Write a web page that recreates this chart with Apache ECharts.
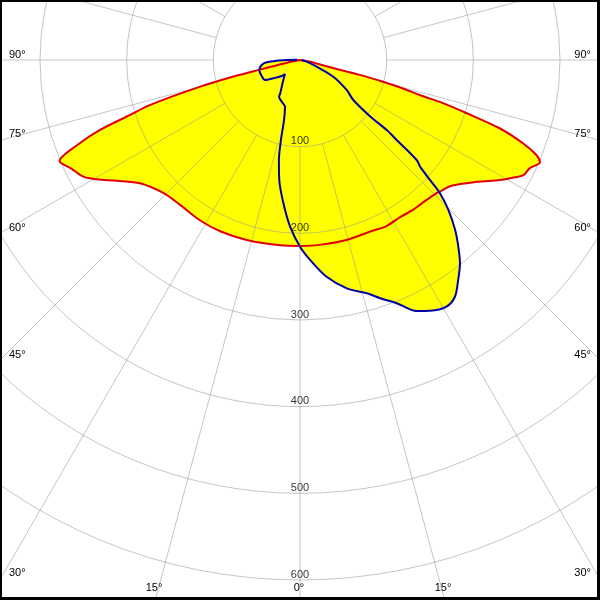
<!DOCTYPE html>
<html>
<head>
<meta charset="utf-8">
<script src="https://cdn.jsdelivr.net/npm/echarts@6/dist/echarts.min.js"></script>
<style>
html,body{margin:0;padding:0;background:#fff;}
#c{width:600px;height:600px;}
</style>
</head>
<body>
<div id="c"></div>
<script>
// ---- data (angle in degrees, 0 = straight down, positive to the right; value in cd/klm) ----
const redAngles = [-90,-80,-77,-76.5,-76,-75,-73.3,-72.1,-70.7,-69.1,-67.2,-64.6,-61.7,-59.6,-56.6,-52.4,-45.8,-39.6,-32,-25,-16.5,-6,0,6,14.5,23,27.5,32.5,37,40,45.7,47,50.3,55.4,59,60.6,62.75,64.8,66.9,68.1,69.5,71.1,72.3,73.2,73.7,74.7,75.3,76,76.3,80,90];
const redValues = [0,8,28,50,79,120,181,206,245,275,301,292,284,272,253,233,220,217,218,218,216.5,215,214.5,214.5,214.5,214,216,215,216.5,217,220,222,227,247.6,269,278,290,293,301,294,275,244,202,173,144,120,99,71,39,12,0];

const blueAngles = [-95,-90,-88.3,-86,-82.6,-76.2,-67.3,-60.3,-55.6,-48.8,-47,-39.9,-31,-29.5,-23.7,-17.8,-14.9,-13.4,-11.9,-9.8,-6.6,-3.4,0,2.9,7,11.6,16,18.6,21.7,24.9,27.4,30.7,33.2,35.7,38.2,40.3,42.4,44.7,46.4,47.3,48.4,49.4,50.4,51.1,51.2,53.1,57.3,63.4,68.1,75.8,90];
const blueValues = [3,15,27,38.5,44.6,48.4,47.9,46.5,37.3,28,23.7,30,44,49,52.5,56.6,71.6,95,118,140.5,166.5,192.7,215.4,231,252,269,280,290,302,319.4,326,331,326.5,312.7,298.5,282.4,265.4,243.4,223,204,185.3,177.3,144.8,128.6,104,76.9,64,43,20.7,8,2];

const radiusTicks = [100,200,300,400,500,600];
const radiusLabels = ['100','200','300','400','500','600'];
const spokeAngles = [-180,-165,-150,-135,-120,-105,-90,-75,-60,-45,-30,-15,0,15,30,45,60,75,90,105,120,135,150,165];
const angleLabels = ['90°','75°','60°','45°','30°','15°','0°','15°','30°','45°','60°','75°','90°'];

// ---- layout (positions of the angle labels at the frame edge) ----
const angleLabelLayout = [
  {x:9, y:55, align:'left'}, {x:9, y:134, align:'left'}, {x:9, y:228, align:'left'},
  {x:9, y:355, align:'left'}, {x:9, y:573, align:'left'}, {x:154, y:588, align:'center'},
  {x:299, y:588, align:'center'}, {x:443, y:588, align:'center'},
  {x:591, y:573, align:'right'}, {x:591, y:355, align:'right'}, {x:591, y:228, align:'right'},
  {x:591, y:134, align:'right'}, {x:591, y:55, align:'right'}
];

const FONT = '11px "Liberation Sans", Arial, sans-serif';
const gridColor = 'rgba(150,150,150,0.55)';
const SMOOTH = 0.3;

const redPts = redAngles.map((a,i)=>[redValues[i], a]);
const bluePts = blueAngles.map((a,i)=>[blueValues[i], a]);

const chart = echarts.init(document.getElementById('c'), null, {renderer:'canvas'});

const graphics = angleLabels.map((t,i)=>{
  const L = angleLabelLayout[i];
  return {type:'text', z:100, style:{text:t, x:L.x, y:L.y, font:FONT, fill:'#000',
    align:L.align, textAlign:L.align, verticalAlign:'middle', textVerticalAlign:'middle'}};
});
graphics.push(
  {type:'rect', z:100, shape:{x:0,y:0,width:2,height:600}, style:{fill:'#000'}},
  {type:'rect', z:100, shape:{x:0,y:0,width:600,height:2}, style:{fill:'#000'}},
  {type:'rect', z:100, shape:{x:597,y:0,width:3,height:600}, style:{fill:'#000'}},
  {type:'rect', z:100, shape:{x:0,y:597,width:600,height:3}, style:{fill:'#000'}}
);

const hiddenAngle = {type:'value', min:-180, max:180, startAngle:90, clockwise:false,
  axisLine:{show:false}, axisTick:{show:false}, axisLabel:{show:false}, splitLine:{show:false}};

chart.setOption({
  animation:false,
  backgroundColor:'#ffffff',
  polar:[{center:[300,60], radius:520}, {center:[300,60], radius:866.667}],
  angleAxis:[Object.assign({polarIndex:0}, hiddenAngle), Object.assign({polarIndex:1, show:false}, hiddenAngle)],
  radiusAxis:[
    {polarIndex:0, type:'value', min:0, max:600, interval:100, z:2,
     axisLine:{show:false}, axisTick:{show:false}, axisLabel:{show:false},
     splitLine:{show:true, lineStyle:{color:gridColor, width:1}}},
    {polarIndex:1, type:'value', min:0, max:1000, show:false,
     axisLine:{show:false}, axisTick:{show:false}, axisLabel:{show:false}, splitLine:{show:false}}
  ],
  graphic:{elements:graphics},
  series:[
    {type:'line', coordinateSystem:'polar', polarIndex:0, data:redPts, showSymbol:false, silent:true, z:1, smooth:SMOOTH,
     lineStyle:{width:0, opacity:0}, areaStyle:{color:'#ffff00', opacity:1}},
    {type:'line', coordinateSystem:'polar', polarIndex:0, data:bluePts, showSymbol:false, silent:true, z:1, smooth:SMOOTH,
     lineStyle:{width:0, opacity:0}, areaStyle:{color:'#ffff00', opacity:1}},
    {type:'custom', coordinateSystem:'polar', polarIndex:1, silent:true, z:2,
     data:spokeAngles.map(a=>[1000,a]),
     renderItem:function(params, api){
       const a = api.value(1);
       const p1 = api.coord([100, a]);
       const p2 = api.coord([1000, a]);
       return {type:'line', shape:{x1:p1[0], y1:p1[1], x2:p2[0], y2:p2[1]},
               style:{stroke:gridColor, lineWidth:1}};
     }},
    {type:'line', coordinateSystem:'polar', polarIndex:0, data:redPts, showSymbol:false, silent:true, z:3, smooth:SMOOTH,
     lineStyle:{color:'#e00000', width:2}},
    {type:'line', coordinateSystem:'polar', polarIndex:0, data:bluePts, showSymbol:false, silent:true, z:4, smooth:SMOOTH,
     lineStyle:{color:'#0000a8', width:2}},
    {type:'scatter', coordinateSystem:'polar', polarIndex:0, silent:true, z:5, symbolSize:0,
     data:radiusTicks.map(r=>[r,0]),
     label:{show:true, position:'top', distance:0, color:'#000', fontSize:11,
            fontFamily:'"Liberation Sans", Arial, sans-serif',
            formatter:function(p){return radiusLabels[p.dataIndex];}}}
  ]
});
</script>
</body>
</html>
